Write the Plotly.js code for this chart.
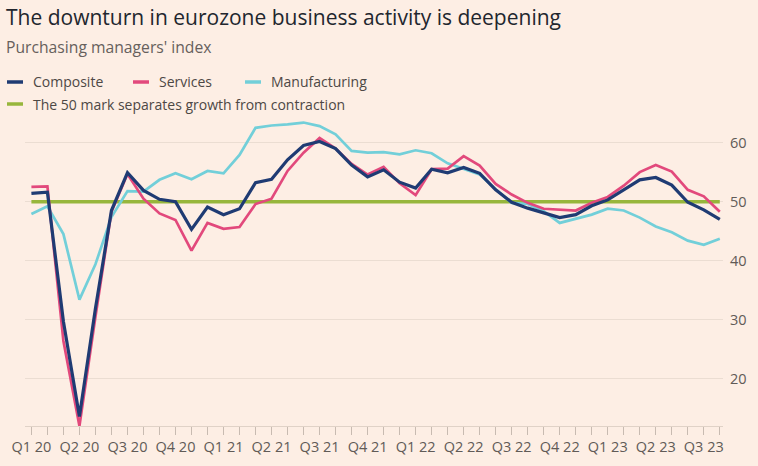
<!DOCTYPE html>
<html>
<head>
<meta charset="utf-8">
<script src="https://cdn.plot.ly/plotly-3.0.1.min.js"></script>
<style>
  html, body { margin: 0; padding: 0; background: #fdeee4; }
  #chart { width: 758px; height: 466px; }
</style>
</head>
<body>
<div id="chart"></div>
<script>
// Months Jan 2020 .. Aug 2023
const months = [
  "Jan 20","Feb 20","Mar 20","Apr 20","May 20","Jun 20","Jul 20","Aug 20","Sep 20","Oct 20","Nov 20","Dec 20",
  "Jan 21","Feb 21","Mar 21","Apr 21","May 21","Jun 21","Jul 21","Aug 21","Sep 21","Oct 21","Nov 21","Dec 21",
  "Jan 22","Feb 22","Mar 22","Apr 22","May 22","Jun 22","Jul 22","Aug 22","Sep 22","Oct 22","Nov 22","Dec 22",
  "Jan 23","Feb 23","Mar 23","Apr 23","May 23","Jun 23","Jul 23","Aug 23"
];
const composite = [
  51.4, 51.6, 29.7, 13.6, 31.9, 48.5, 54.9, 51.9, 50.4, 50.0, 45.3, 49.1,
  47.8, 48.8, 53.2, 53.8, 57.1, 59.5, 60.2, 59.0, 56.2, 54.2, 55.4, 53.3,
  52.3, 55.5, 54.9, 55.8, 54.8, 52.0, 49.9, 48.9, 48.1, 47.3, 47.8, 49.3,
  50.3, 52.0, 53.7, 54.1, 52.8, 49.9, 48.6, 47.0
];
const services = [
  52.5, 52.6, 26.4, 12.0, 30.5, 48.3, 54.7, 50.5, 48.0, 46.9, 41.7, 46.4,
  45.4, 45.7, 49.6, 50.5, 55.2, 58.3, 60.8, 59.0, 56.4, 54.6, 55.9, 53.1,
  51.1, 55.5, 55.6, 57.7, 56.1, 53.0, 51.2, 49.8, 48.8, 48.6, 48.5, 49.8,
  50.8, 52.7, 55.0, 56.2, 55.1, 52.0, 50.9, 48.3
];
const manufacturing = [
  47.9, 49.2, 44.5, 33.4, 39.4, 47.4, 51.8, 51.7, 53.7, 54.8, 53.8, 55.2,
  54.8, 57.9, 62.5, 62.9, 63.1, 63.4, 62.8, 61.4, 58.6, 58.3, 58.4, 58.0,
  58.7, 58.2, 56.5, 55.5, 54.6, 52.1, 49.8, 49.6, 48.4, 46.4, 47.1, 47.8,
  48.8, 48.5, 47.3, 45.8, 44.8, 43.4, 42.7, 43.7
];
const growthThreshold = 50;
const quarterLabels = ["Q1 20","Q2 20","Q3 20","Q4 20","Q1 21","Q2 21","Q3 21","Q4 21",
                       "Q1 22","Q2 22","Q3 22","Q4 22","Q1 23","Q2 23","Q3 23"];
const yTicks = [20, 30, 40, 50, 60];

const xIdx = months.map((_, i) => i);
const tickText = xIdx.map(i => (i % 3 === 0 ? quarterLabels[i / 3] : ""));

const COLORS = {
  composite: "#1f3b73",
  services: "#e2497c",
  manufacturing: "#72cfd9",
  threshold: "#97b63c"
};

const traces = [
  { x: [0, months.length - 1], y: [growthThreshold, growthThreshold], mode: "lines",
    name: "The 50 mark separates growth from contraction",
    line: { color: COLORS.threshold, width: 3.5 }, hoverinfo: "skip" },
  { x: xIdx, y: manufacturing, mode: "lines", name: "Manufacturing",
    line: { color: COLORS.manufacturing, width: 2.7 } },
  { x: xIdx, y: services, mode: "lines", name: "Services",
    line: { color: COLORS.services, width: 2.7 } },
  { x: xIdx, y: composite, mode: "lines", name: "Composite",
    line: { color: COLORS.composite, width: 3.2 } }
];

const FONT = "Open Sans, sans-serif";
const legendItems = [
  { label: "Composite", color: COLORS.composite, x: 7, y: 82 },
  { label: "Services", color: COLORS.services, x: 133, y: 82 },
  { label: "Manufacturing", color: COLORS.manufacturing, x: 245, y: 82 },
  { label: "The 50 mark separates growth from contraction", color: COLORS.threshold, x: 7, y: 104 }
];
const W = 758, H = 466;
const BG = "#fdeee4";

const layout = {
  width: W, height: H,
  paper_bgcolor: BG,
  plot_bgcolor: BG,
  margin: { l: 25, r: 35, t: 119, b: 40 },
  showlegend: false,
  font: { family: FONT, color: "#66605c" },
  xaxis: {
    range: [-0.4, 43.2],
    tickvals: xIdx, ticktext: tickText,
    tickmode: "array",
    ticks: "outside", ticklen: 8, tickcolor: "#c8bbb1", tickwidth: 1,
    showline: true, linecolor: "#e0d2c7", linewidth: 1,
    showgrid: false, zeroline: false,
    tickfont: { family: FONT, size: 14.5, color: "#615b57" },
    fixedrange: true
  },
  yaxis: {
    range: [12, 64], side: "right",
    tickvals: yTicks, ticks: "",
    showgrid: true, gridcolor: "#ebddd2", gridwidth: 1,
    zeroline: false, showline: false,
    tickfont: { family: FONT, size: 14.5, color: "#615b57" },
    ticklabelstandoff: 6,
    fixedrange: true
  },
  annotations: [],
  shapes: []
};

const plotW = W - layout.margin.l - layout.margin.r;
const plotH = H - layout.margin.t - layout.margin.b;
const px2x = px => (px - layout.margin.l) / plotW;
const px2y = py => (H - layout.margin.b - py) / plotH;

layout.annotations.push({
  text: "The downturn in eurozone business activity is deepening", xref: "paper", yref: "paper",
  x: px2x(4), y: px2y(17), xanchor: "left", yanchor: "middle", showarrow: false,
  font: { family: FONT, size: 21, color: "#22262e" }
});
layout.annotations.push({
  text: "Purchasing managers' index", xref: "paper", yref: "paper",
  x: px2x(4), y: px2y(47), xanchor: "left", yanchor: "middle", showarrow: false,
  font: { family: FONT, size: 15.7, color: "#66605c" }
});
legendItems.forEach(it => {
  layout.annotations.push({
    text: it.label, xref: "paper", yref: "paper",
    x: px2x(it.x + 24), y: px2y(it.y),
    xanchor: "left", yanchor: "middle", showarrow: false,
    font: { family: FONT, size: 14, color: "#4d4845" }
  });
  layout.shapes.push({
    type: "line", xref: "paper", yref: "paper",
    x0: px2x(it.x), x1: px2x(it.x + 16), y0: px2y(it.y), y1: px2y(it.y),
    line: { color: it.color, width: 3.5 }
  });
});

Plotly.newPlot("chart", traces, layout, { displayModeBar: false, staticPlot: true });
</script>
</body>
</html>
